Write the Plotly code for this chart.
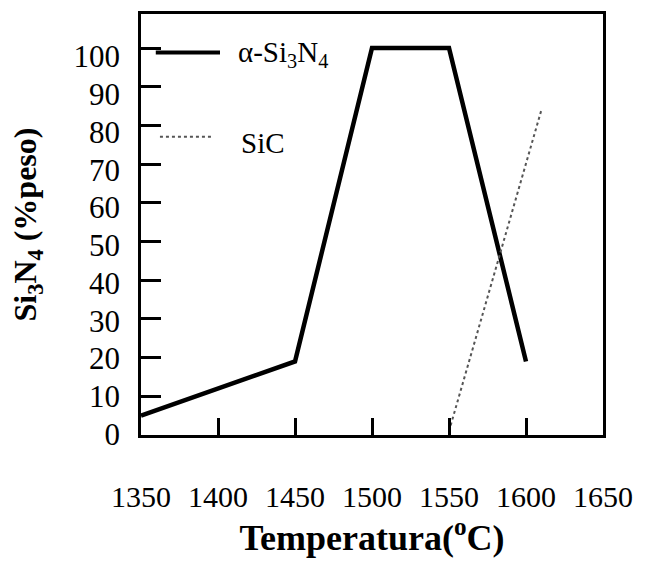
import plotly.graph_objects as go

# Phase content vs. temperature
temp_si3n4 = [1350, 1450, 1500, 1550, 1600]
pct_si3n4 = [5, 19, 100, 100, 19]

temp_sic = [1550, 1610]
pct_sic = [1, 84]

x_ticks = [1350, 1400, 1450, 1500, 1550, 1600, 1650]
y_ticks = [0, 10, 20, 30, 40, 50, 60, 70, 80, 90, 100]

SERIF = "Liberation Serif"

fig = go.Figure()
fig.add_trace(go.Scatter(x=temp_si3n4, y=pct_si3n4, mode="lines",
                         line=dict(color="black", width=4.5),
                         name="α-Si<sub>3</sub>N<sub>4</sub>", showlegend=False))
fig.add_trace(go.Scatter(x=temp_sic, y=pct_sic, mode="lines",
                         line=dict(color="#555555", width=2, dash="dot"),
                         name="SiC", showlegend=False))
# empty trace so the label axis gets drawn
fig.add_trace(go.Scatter(x=[], y=[], yaxis="y2", showlegend=False,
                         hoverinfo="skip"))

# hand-placed key in the upper-left corner of the frame
fig.add_shape(type="line", xref="x domain", yref="y domain",
              x0=0.032, x1=0.171, y0=0.9085, y1=0.9085,
              line=dict(color="black", width=4))
fig.add_shape(type="line", xref="x domain", yref="y domain",
              x0=0.041, x1=0.154, y0=0.7086, y1=0.7086,
              line=dict(color="#555555", width=2, dash="dot"))
fig.add_annotation(xref="x domain", yref="y domain", x=0.206, y=0.905,
                   text="α-Si<sub>3</sub>N<sub>4</sub>", showarrow=False,
                   xanchor="left", yanchor="middle",
                   font=dict(family=SERIF, size=29, color="black"))
fig.add_annotation(xref="x domain", yref="y domain", x=0.212, y=0.694,
                   text="SiC", showarrow=False,
                   xanchor="left", yanchor="middle",
                   font=dict(family=SERIF, size=29, color="black"))

fig.update_layout(
    width=651, height=562,
    margin=dict(l=141, r=48, t=14, b=127),
    paper_bgcolor="white", plot_bgcolor="white",
    font=dict(family=SERIF, size=30, color="black"),
)
fig.update_xaxes(
    range=[1350, 1650], tickvals=x_ticks, ticks="inside", ticklen=17,
    tickwidth=2.5, tickcolor="black", showgrid=False, zeroline=False,
    showline=True, linecolor="black", linewidth=2.5, mirror=True,
    ticklabelstandoff=33,
    tickfont=dict(family=SERIF, size=30, color="black"),
    title=dict(text="<b>Temperatura(<sup>o</sup>C)</b>", standoff=3,
               font=dict(family=SERIF, size=36, color="black")),
)
# tick marks on the main axis
fig.update_yaxes(
    range=[0, 108.8], tickvals=y_ticks, ticks="inside", ticklen=20,
    tickwidth=3, tickcolor="black", showgrid=False, zeroline=False,
    showline=True, linecolor="black", linewidth=3, mirror=True,
    showticklabels=False,
)
# tick labels and title on an overlaid axis with a slightly wider spacing
fig.update_layout(yaxis2=dict(
    overlaying="y", anchor="x", side="left",
    range=[-0.26, 111.3], tickvals=y_ticks, ticks="",
    showgrid=False, zeroline=False, showline=False,
    ticklabelstandoff=20,
    tickfont=dict(family=SERIF, size=31, color="black"),
    title=dict(text="<b>Si<sub>3</sub>N<sub>4</sub> (%peso)</b>", standoff=27,
               font=dict(family=SERIF, size=32, color="black")),
))

fig.write_html("out.html")
